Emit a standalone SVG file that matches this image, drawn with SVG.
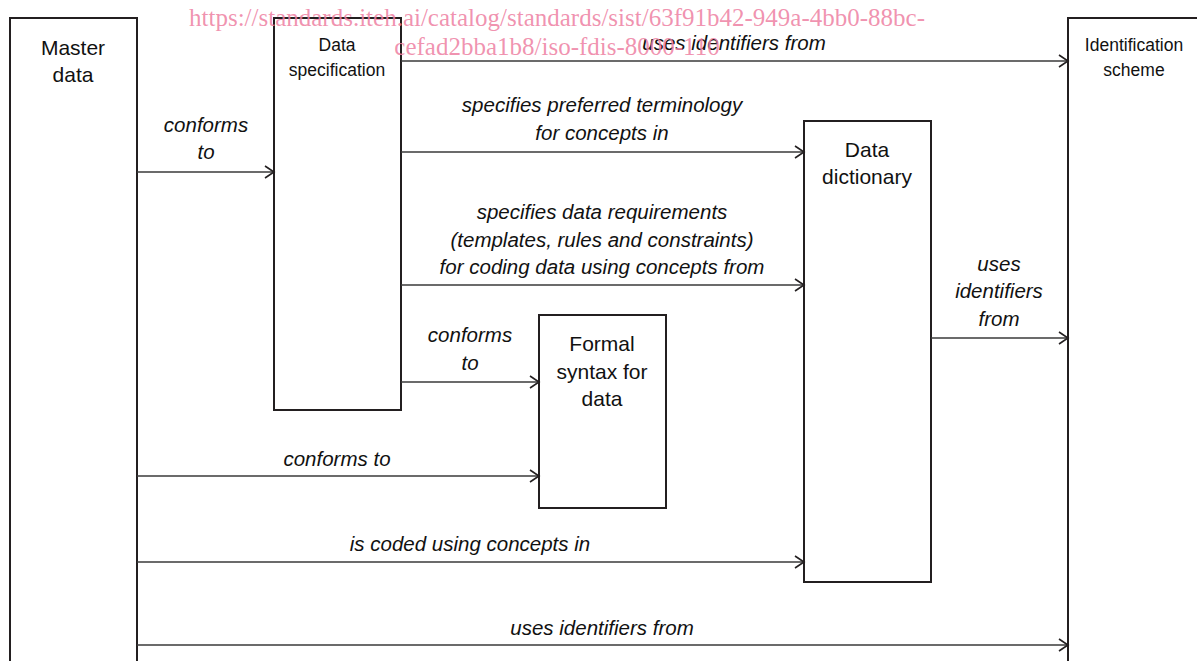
<svg xmlns="http://www.w3.org/2000/svg" width="1197" height="661" viewBox="0 0 1197 661">
<style>
.box{fill:#fff;stroke:#231f20;stroke-width:2}
.conn{stroke:#3a3a3a;stroke-width:1.5;fill:none;marker-end:url(#arr)}
.lbl{font-family:"Liberation Sans",Arial,sans-serif;font-style:italic;font-size:20.5px;fill:#111;text-anchor:middle}
.nl{font-family:"Liberation Sans",Arial,sans-serif;font-size:21px;fill:#111;text-anchor:middle}
.ns{font-family:"Liberation Sans",Arial,sans-serif;font-size:17.5px;fill:#111;text-anchor:middle}
.wm{font-family:"Liberation Serif","Times New Roman",serif;font-size:25px;fill:#ee7fa2;fill-opacity:0.85;text-anchor:middle}
</style>
<defs>
<marker id="arr" markerWidth="14" markerHeight="14" refX="12" refY="7" orient="auto" markerUnits="userSpaceOnUse">
<path d="M3,1 L12,7 L3,13" fill="none" stroke="#231f20" stroke-width="1.6"/>
</marker>
</defs>
<rect width="1197" height="661" fill="#fff"/>
<g id="master-data">
<path class="box" d="M10,662 V18 H137 V662"/>
<text class="nl" x="73" y="55">Master</text>
<text class="nl" x="73" y="82">data</text>
</g>
<g id="data-specification">
<rect class="box" x="274" y="18" width="127" height="392"/>
<text class="ns" x="337" y="51">Data</text>
<text class="ns" x="337" y="76">specification</text>
</g>
<g id="identification-scheme">
<path class="box" d="M1198,18 H1068 V662"/>
<text class="ns" x="1134" y="51">Identification</text>
<text class="ns" x="1134" y="76">scheme</text>
</g>
<g id="data-dictionary">
<rect class="box" x="804" y="121" width="127" height="461"/>
<text class="nl" x="867" y="157">Data</text>
<text class="nl" x="867" y="184">dictionary</text>
</g>
<g id="formal-syntax">
<rect class="box" x="539" y="315" width="127" height="193"/>
<text class="nl" x="602" y="351">Formal</text>
<text class="nl" x="602" y="379">syntax for</text>
<text class="nl" x="602" y="406">data</text>
</g>
<g id="connectors">
<line class="conn" x1="401" y1="61" x2="1068" y2="61"/>
<line class="conn" x1="401" y1="152" x2="804" y2="152"/>
<line class="conn" x1="137" y1="172" x2="274" y2="172"/>
<line class="conn" x1="401" y1="285" x2="804" y2="285"/>
<line class="conn" x1="931" y1="338" x2="1068" y2="338"/>
<line class="conn" x1="401" y1="382" x2="539" y2="382"/>
<line class="conn" x1="137" y1="476" x2="539" y2="476"/>
<line class="conn" x1="137" y1="562" x2="804" y2="562"/>
<line class="conn" x1="137" y1="645" x2="1068" y2="645"/>
<text class="lbl" x="734" y="50">uses identifiers from</text>
<text class="lbl" x="602" y="112">specifies preferred terminology</text>
<text class="lbl" x="602" y="140">for concepts in</text>
<text class="lbl" x="206" y="132">conforms</text>
<text class="lbl" x="206" y="159">to</text>
<text class="lbl" x="602" y="219">specifies data requirements</text>
<text class="lbl" x="602" y="247">(templates, rules and constraints)</text>
<text class="lbl" x="602" y="274">for coding data using concepts from</text>
<text class="lbl" x="999" y="271">uses</text>
<text class="lbl" x="999" y="298">identifiers</text>
<text class="lbl" x="999" y="326">from</text>
<text class="lbl" x="470" y="342">conforms</text>
<text class="lbl" x="470" y="370">to</text>
<text class="lbl" x="337" y="466">conforms to</text>
<text class="lbl" x="470" y="551">is coded using concepts in</text>
<text class="lbl" x="602" y="635">uses identifiers from</text>
</g>
<text class="wm" x="557" y="26">https://standards.iteh.ai/catalog/standards/sist/63f91b42-949a-4bb0-88bc-</text>
<text class="wm" x="557" y="55">cefad2bba1b8/iso-fdis-8000-110</text>
</svg>
